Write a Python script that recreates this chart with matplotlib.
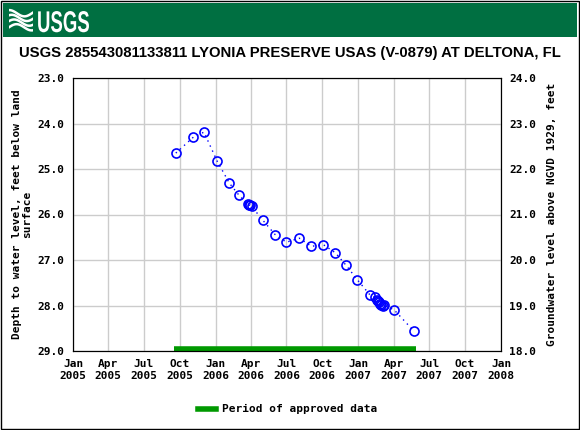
import matplotlib
matplotlib.use("Agg")
import matplotlib.pyplot as plt
from matplotlib.patches import Rectangle, PathPatch
from matplotlib.textpath import TextPath
from matplotlib.font_manager import FontProperties
from matplotlib.transforms import Affine2D, IdentityTransform
import numpy as np
import datetime as dt

# measurement dates (days since 2005-01-01) and depth to water, ft
days = [263, 308, 335, 369, 400, 425, 447, 450, 453, 457, 485, 517, 546, 579,
        610, 640, 671, 699, 727, 761, 772, 777, 780, 783, 786, 789, 792, 795,
        822, 873]
depth = [24.65, 24.30, 24.19, 24.83, 25.31, 25.58, 25.78, 25.80, 25.79, 25.82,
         26.12, 26.44, 26.61, 26.52, 26.70, 26.66, 26.84, 27.12, 27.43, 27.78,
         27.82, 27.87, 27.90, 27.93, 27.96, 27.98, 28.00, 27.99, 28.10, 28.57]
approved = [258, 877]  # approved period, days since 2005-01-01
tick_labels = ["Jan\n2005", "Apr\n2005", "Jul\n2005", "Oct\n2005",
               "Jan\n2006", "Apr\n2006", "Jul\n2006", "Oct\n2006",
               "Jan\n2007", "Apr\n2007", "Jul\n2007", "Oct\n2007", "Jan\n2008"]

t0 = dt.datetime(2005, 1, 1)
dates = [t0 + dt.timedelta(days=d) for d in days]
app_dates = [t0 + dt.timedelta(days=d) for d in approved]
tick_dates = [dt.datetime(2005 + i // 4, 1 + 3 * (i % 4), 1) for i in range(13)]

mono = {"family": "DejaVu Sans Mono", "weight": "bold", "size": 8}

fig = plt.figure(figsize=(5.8, 4.3), dpi=100)
fig.patches.append(Rectangle((0.002, 0.002), 0.996, 0.996, transform=fig.transFigure,
                             fill=False, edgecolor="black", linewidth=1))
# header band
fig.patches.append(Rectangle((3/580, 1 - 37/430), 574/580, 34/430, transform=fig.transFigure,
                             facecolor="#006f41", edgecolor="none", zorder=-5))
logo = fig.add_axes([9/580, 1 - 33/430, 24/580, 26/430])
logo.set_zorder(5)
xx = np.linspace(0, 1, 50)
for k in range(4):
    logo.plot(xx, 0.22 + 0.18 * k + 0.12 * np.sin(xx * 5 + k * 0.5), color="white", lw=1.8)
logo.set_xlim(0, 1)
logo.set_ylim(0, 1)
logo.axis("off")
# condensed "USGS" wordmark
tp = TextPath((0, 0), "USGS", size=30, prop=FontProperties(family="Liberation Sans", weight="bold"))
tr = Affine2D().scale(0.62, 1.0).translate(37, 430 - 32) + IdentityTransform()
fig.patches.append(PathPatch(tp, transform=tr, facecolor="white", edgecolor="none", zorder=6))

fig.text(0.5, 1 - 53/430, "USGS 285543081133811 LYONIA PRESERVE USAS (V-0879) AT DELTONA, FL",
         ha="center", va="center", fontsize=10.7, fontweight="bold", family="Liberation Sans")

ax = fig.add_axes([73/580, 1 - 351/430, 428/580, 273/430])
ax.plot(dates, depth, color="blue", ls=(0, (1, 3)), lw=1, marker="o", ms=6.5,
        mfc="none", mec="blue", mew=1.2)
ax.plot(app_dates, [28.95, 28.95], color="#009900", lw=4, solid_capstyle="butt")
ax.set_xlim(tick_dates[0], tick_dates[-1])
ax.set_ylim(29, 23)
ax.set_xticks(tick_dates)
ax.set_xticklabels(tick_labels)
ax.set_yticks(np.arange(23, 29.5, 1))
ax.set_yticklabels([f"{v:.1f}" for v in np.arange(23, 29.5, 1)])
ax.grid(True, color="#cccccc", lw=1)
ax.tick_params(length=0, pad=6)
for lab in ax.get_xticklabels() + ax.get_yticklabels():
    lab.set_fontproperties(mono)
ax.set_ylabel("Depth to water level, feet below land\nsurface", fontdict=mono, labelpad=4,
              linespacing=1.0)

ax2 = ax.twinx()
ax2.set_ylim(18, 24)
ax2.set_yticks(np.arange(18, 24.5, 1))
ax2.set_yticklabels([f"{v:.1f}" for v in np.arange(18, 24.5, 1)])
ax2.tick_params(length=0, pad=6)
for lab in ax2.get_yticklabels():
    lab.set_fontproperties(mono)
ax2.set_ylabel("Groundwater level above NGVD 1929, feet", fontdict=mono, labelpad=8)

# legend
fig.lines.append(plt.Line2D([198/580, 216/580], [1 - 409/430] * 2, transform=fig.transFigure,
                            color="#009900", lw=4))
fig.text(222/580, 1 - 409/430, "Period of approved data", fontdict=mono, va="center", ha="left")

fig.savefig("out.png", dpi=100)
